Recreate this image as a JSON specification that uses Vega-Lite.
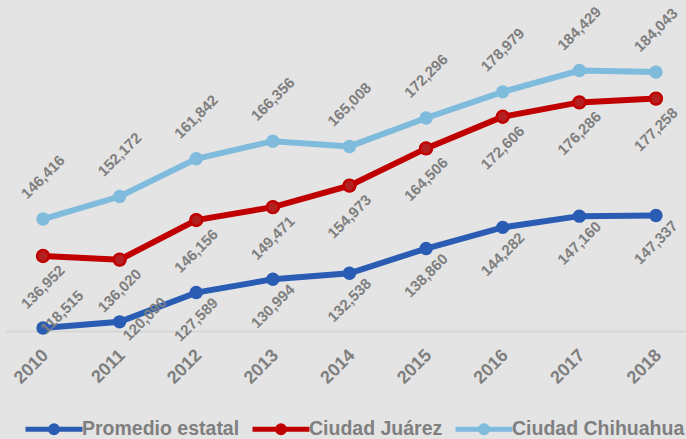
{
  "$schema": "https://vega.github.io/schema/vega-lite/v6.json",
  "width": 681,
  "height": 331,
  "autosize": {"type": "none"},
  "padding": {"left": 5, "top": 0, "right": 0, "bottom": 108},
  "background": "#e4e4e4",
  "config": {"view": {"stroke": null}, "font": "Liberation Sans"},
  "data": {
    "values": [
      {"year": 2010, "series": "Promedio estatal", "value": 118515},
      {"year": 2011, "series": "Promedio estatal", "value": 120090},
      {"year": 2012, "series": "Promedio estatal", "value": 127589},
      {"year": 2013, "series": "Promedio estatal", "value": 130994},
      {"year": 2014, "series": "Promedio estatal", "value": 132538},
      {"year": 2015, "series": "Promedio estatal", "value": 138860},
      {"year": 2016, "series": "Promedio estatal", "value": 144282},
      {"year": 2017, "series": "Promedio estatal", "value": 147160},
      {"year": 2018, "series": "Promedio estatal", "value": 147337},
      {"year": 2010, "series": "Ciudad Juárez", "value": 136952},
      {"year": 2011, "series": "Ciudad Juárez", "value": 136020},
      {"year": 2012, "series": "Ciudad Juárez", "value": 146156},
      {"year": 2013, "series": "Ciudad Juárez", "value": 149471},
      {"year": 2014, "series": "Ciudad Juárez", "value": 154973},
      {"year": 2015, "series": "Ciudad Juárez", "value": 164506},
      {"year": 2016, "series": "Ciudad Juárez", "value": 172606},
      {"year": 2017, "series": "Ciudad Juárez", "value": 176286},
      {"year": 2018, "series": "Ciudad Juárez", "value": 177258},
      {"year": 2010, "series": "Ciudad Chihuahua", "value": 146416},
      {"year": 2011, "series": "Ciudad Chihuahua", "value": 152172},
      {"year": 2012, "series": "Ciudad Chihuahua", "value": 161842},
      {"year": 2013, "series": "Ciudad Chihuahua", "value": 166356},
      {"year": 2014, "series": "Ciudad Chihuahua", "value": 165008},
      {"year": 2015, "series": "Ciudad Chihuahua", "value": 172296},
      {"year": 2016, "series": "Ciudad Chihuahua", "value": 178979},
      {"year": 2017, "series": "Ciudad Chihuahua", "value": 184429},
      {"year": 2018, "series": "Ciudad Chihuahua", "value": 184043}
    ]
  },
  "encoding": {
    "x": {
      "field": "year",
      "type": "quantitative",
      "scale": {"domain": [2009.504, 2018.392], "nice": false, "zero": false},
      "axis": {
        "values": [2010, 2011, 2012, 2013, 2014, 2015, 2016, 2017, 2018],
        "format": "d",
        "labelAngle": -45,
        "labelFontSize": 18,
        "labelFontWeight": "bold",
        "labelColor": "#7f7f7f",
        "ticks": false,
        "grid": false,
        "domainColor": "#d6d6d6",
        "domainWidth": 2,
        "labelPadding": 15,
        "labelOffset": -4,
        "title": null,
        "labelFlush": false,
        "labelOverlap": false
      }
    },
    "y": {
      "field": "value",
      "type": "quantitative",
      "scale": {"domain": [117750, 202500], "nice": false, "zero": false},
      "axis": null
    }
  },
  "layer": [
    {
      "mark": {"type": "line", "strokeWidth": 6},
      "encoding": {
        "color": {
          "field": "series",
          "type": "nominal",
          "scale": {
            "domain": ["Promedio estatal", "Ciudad Juárez", "Ciudad Chihuahua"],
            "range": ["#2a5cb4", "#c00000", "#7ebbdd"]
          },
          "legend": {
            "orient": "none",
            "legendX": 18,
            "legendY": 398,
            "direction": "horizontal",
            "title": null,
            "labelFontSize": 19.5,
            "labelFontWeight": "bold",
            "labelColor": "#7f7f7f",
            "labelLimit": 300,
            "labelOffset": -3,
            "columnPadding": 2,
            "symbolType": "M-1,0H1M-0.12,0A0.12,0.12 0 1,0 0.12,0A0.12,0.12 0 1,0 -0.12,0",
            "symbolSize": 3249,
            "symbolStrokeWidth": 5
          }
        }
      }
    },
    {
      "mark": {"type": "point", "filled": true, "size": 180, "opacity": 1},
      "encoding": {"color": {"field": "series", "type": "nominal"}}
    },
    {
      "transform": [{"filter": "datum.series === 'Ciudad Juárez'"}],
      "mark": {"type": "point", "filled": true, "size": 140, "opacity": 1, "fill": "#b2211f", "stroke": "#c00000", "strokeWidth": 2.5}
    },
    {
      "transform": [{"filter": "datum.series === 'Ciudad Chihuahua'"}],
      "mark": {"type": "text", "angle": -45, "align": "center", "baseline": "middle", "dx": 29.7, "dy": -29.7, "fontSize": 15, "fontWeight": "bold", "color": "#7f7f7f"},
      "encoding": {"text": {"field": "value", "type": "quantitative", "format": ","}}
    },
    {
      "transform": [{"filter": "datum.series === 'Ciudad Juárez'"}],
      "mark": {"type": "text", "angle": -45, "align": "center", "baseline": "middle", "dx": -21.9, "dy": 21.9, "fontSize": 15, "fontWeight": "bold", "color": "#7f7f7f"},
      "encoding": {"text": {"field": "value", "type": "quantitative", "format": ","}}
    },
    {
      "transform": [{"filter": "datum.series === 'Promedio estatal' && datum.year >= 2012"}],
      "mark": {"type": "text", "angle": -45, "align": "center", "baseline": "middle", "dx": -19.1, "dy": 19.1, "fontSize": 15, "fontWeight": "bold", "color": "#7f7f7f"},
      "encoding": {"text": {"field": "value", "type": "quantitative", "format": ","}}
    },
    {
      "transform": [{"filter": "datum.series === 'Promedio estatal' && datum.year === 2010"}],
      "mark": {"type": "text", "angle": -45, "align": "center", "baseline": "middle", "dx": 24.7, "dy": 2.1, "fontSize": 15, "fontWeight": "bold", "color": "#7f7f7f"},
      "encoding": {"text": {"field": "value", "type": "quantitative", "format": ","}}
    },
    {
      "transform": [{"filter": "datum.series === 'Promedio estatal' && datum.year === 2011"}],
      "mark": {"type": "text", "angle": -45, "align": "center", "baseline": "middle", "dx": 19.8, "dy": 15.6, "fontSize": 15, "fontWeight": "bold", "color": "#7f7f7f"},
      "encoding": {"text": {"field": "value", "type": "quantitative", "format": ","}}
    }
  ]
}
